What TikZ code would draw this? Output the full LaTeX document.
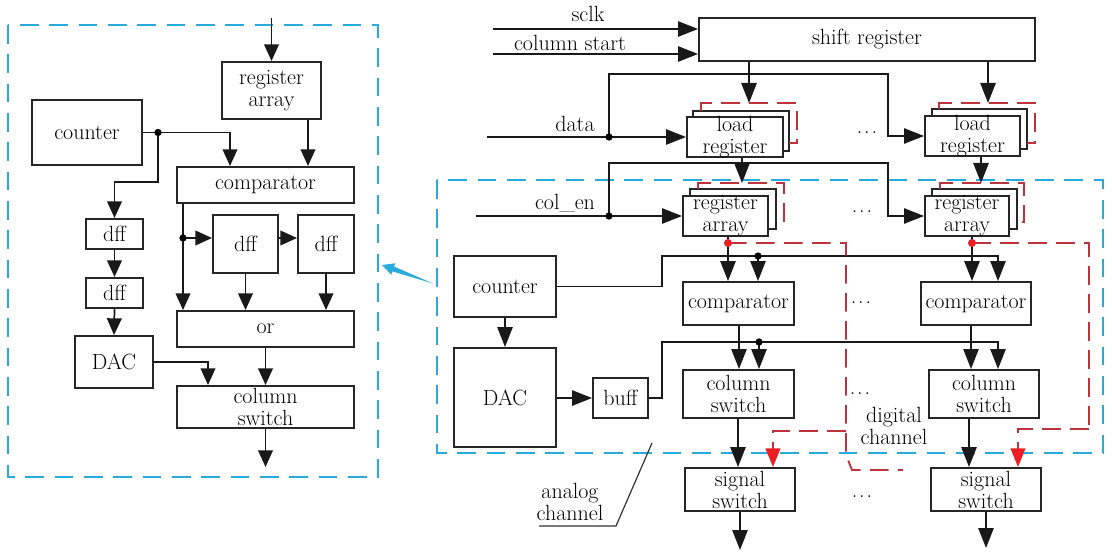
\documentclass[tikz,border=0pt]{standalone}
\usepackage{fontspec}
\usetikzlibrary{arrows.meta,fit}
\definecolor{cblue}{RGB}{40,170,220}
\definecolor{cred}{RGB}{190,50,60}
\definecolor{bred}{RGB}{235,30,35}
\tikzset{
 lbl/.style={font=\fontsize{16.5}{16.5}\selectfont\addfontfeature{FakeBold=0.7}, align=center, inner sep=0pt},
 dots/.style={lbl, font=\fontsize{16.5}{16.5}\selectfont\addfontfeature{FakeBold=1.5}},
 bx/.style={draw=black!85, line width=1.5pt, fill=white, inner sep=0pt},
 ln/.style={line width=1.3pt, black!90},
 al/.style={ln, -{Triangle[length=12.5pt,width=11pt]}},
 arw/.style={ln, -{Triangle[length=15pt,width=11.5pt]}},
 bdash/.style={cblue, line width=1.8pt, dash pattern=on 14pt off 8pt},
 rdash/.style={cred, line width=1.4pt, dash pattern=on 14pt off 7pt},
 rarw/.style={rdash, -{Triangle[length=14pt,width=11pt,color=bred]}},
 jd/.style={circle, fill=black, inner sep=0pt, minimum size=5.5pt},
 rd/.style={circle, fill=bred, inner sep=0pt, minimum size=6pt},
}
\newcommand{\mydots}{.\kern1.5pt.\kern1.5pt.}
\begin{document}
\begin{tikzpicture}[x=0.75pt,y=-0.75pt]
\useasboundingbox (0,0) rectangle (1112,552);
% ---------- blue dashed frames ----------
\draw[bdash] (8,25) rectangle (378,477);
\draw[bdash] (437,180) rectangle (1103,453);
\fill[cblue] (382,265) -- (395.3,263.3) -- (394.1,266.6) -- (433,283.5) -- (392.5,271.4) -- (391.3,274.7) -- cycle;

% ---------- left panel ----------
\coordinate (ltop) at (271.5,18);
\coordinate (X308) at (308,0);
\coordinate (X230) at (230,0);
\coordinate (X183) at (183,0);
\coordinate (X208) at (208,0);
\coordinate (lj) at (158,132.5);
\coordinate (lj2) at (183,238);
\coordinate (lout) at (265.5,467);
\node[bx, fit={(222,62) (321,119)}, label={[lbl]center:{register\\array}}] (lra) {};
\node[bx, fit={(32,100) (142,165)}, label={[lbl]center:counter}] (lcnt) {};
\node[bx, fit={(177,167) (354,203)}, label={[lbl]center:comparator}] (lcmp) {};
\node[bx, fit={(86,219) (143,249)}, label={[lbl]center:dff}] (ld1) {};
\node[bx, fit={(86,278) (143,308)}, label={[lbl]center:dff}] (ld2) {};
\node[bx, fit={(75,336) (153,388)}, label={[lbl]center:DAC}] (ldac) {};
\node[bx, fit={(213,215) (278,273)}, label={[lbl]center:dff}] (ld3) {};
\node[bx, fit={(298,215) (354,273)}, label={[lbl]center:dff}] (ld4) {};
\node[bx, fit={(177,311) (354,347)}, label={[lbl]center:or}] (lor) {};
\node[bx, fit={(177,386) (354,428)}, label={[lbl]center:{column\\switch}}] (lcs) {};

\draw[al] (ltop) -- (lra.north);
\draw[al] (lra.south -| X308) -- (lcmp.north -| X308);
\draw[al] (lcnt.east) -| (lcmp.north -| X230);
\draw[al] (lj) -- (158,182) -| (ld1.north);
\draw[al] (ld1.south) -- (ld2.north);
\draw[al] (ld2.south) -- (ldac.north);
\draw[al] (ldac.east) -| (lcs.north -| X208);
\draw[al] (lcmp.south -| X183) -- (lor.north -| X183);
\draw[al] (lj2) -- (ld3.west |- lj2);
\draw[al] (ld3.east |- lj2) -- (ld4.west |- lj2);
\draw[al] (ld3.south) -- (ld3.south |- lor.north);
\draw[al] (ld4.south) -- (ld4.south |- lor.north);
\draw[al] (lor.south) -- (lcs.north);
\draw[al] (lcs.south) -- (lout);
\node[jd] at (lj) {};
\node[jd] at (lj2) {};

% ---------- right panel ----------
\node[bx, fit={(699,18) (1035,61)}, label={[lbl]center:shift register}] (sr) {};
\coordinate (sclkin) at (493,29);
\coordinate (csin) at (493,54);
\draw[arw] (sclkin) -- (sclkin -| sr.west);
\draw[arw] (csin) -- (csin -| sr.west);
\node[lbl] at (588,14) {sclk};
\node[lbl] at (570,43) {column start};

% load registers
\node[bx, fit={(693,111) (789,151)}] (lr1b) {};
\node[bx, fit={(687,117) (783,157)}, label={[lbl]center:{load\\register}}] (lr1) {};
\draw[rdash] (701,111) -- (701,103) -- (797,103) -- (797,143) -- (789,143);
\node[bx, fit={(932,109) (1027,149)}] (lr2b) {};
\node[bx, fit={(925,116) (1020,156)}, label={[lbl]center:{load\\register}}] (lr2) {};
\draw[rdash] (939,109) -- (939,103) -- (1035,103) -- (1035,143) -- (1027,143);
\coordinate (lr1t) at (749,103);
\coordinate (lr2t) at (988,103);
\draw[arw] (sr.south -| lr1t) -- (lr1t);
\draw[arw] (sr.south -| lr2t) -- (lr2t);

\coordinate (datain) at (487,137);
\coordinate (dj) at (609,137);
\draw[arw] (datain) -- (datain -| lr1.west);
\draw[arw] (dj) |- (888,74) |- (lr2.west);
\node[jd] at (dj) {};
\node[lbl] at (575,124) {data};

% register arrays
\node[bx, fit={(690,189) (776,229)}] (ra1b) {};
\node[bx, fit={(683,196) (768,236)}, label={[lbl]center:{register\\array}}] (ra1) {};
\draw[rdash] (698,189) -- (698,183) -- (784,183) -- (784,222) -- (776,222);
\node[bx, fit={(932,189) (1017,229)}] (ra2b) {};
\node[bx, fit={(925,196) (1009,236)}, label={[lbl]center:{register\\array}}] (ra2) {};
\draw[rdash] (940,189) -- (940,183) -- (1024,183) -- (1024,222) -- (1017,222);
\coordinate (ra1t) at (742,183);
\coordinate (ra2t) at (981,183);
\draw[arw] (lr1.south -| ra1t) -- (ra1t);
\draw[arw] (lr2.south -| ra2t) -- (ra2t);

\coordinate (colin) at (476,216);
\coordinate (cj) at (609,216);
\draw[arw] (colin) -- (colin -| ra1.west);
\draw[arw] (cj) |- (888,163) |- (ra2.west);
\node[jd] at (cj) {};
\node[lbl] at (565,203) {col\_en};

% analog blocks
\node[bx, fit={(454,256) (556,317)}, label={[lbl]center:counter}] (cnt) {};
\node[bx, fit={(454,348) (556,447)}, label={[lbl]center:DAC}] (dac) {};
\node[bx, fit={(593,378) (648,418)}, label={[lbl]center:buff}] (buff) {};

% channel blocks
\node[bx, fit={(683,282) (794,325)}, label={[lbl]center:comparator}] (cmp1) {};
\node[bx, fit={(921,282) (1031,325)}, label={[lbl]center:comparator}] (cmp2) {};
\node[bx, fit={(683,370) (794,418)}, label={[lbl]center:{column\\switch}}] (cs1) {};
\node[bx, fit={(929,370) (1039,418)}, label={[lbl]center:{column\\switch}}] (cs2) {};
\node[bx, fit={(685,468) (795,511)}, label={[lbl]center:{signal\\switch}}] (ss1) {};
\node[bx, fit={(931,468) (1041,511)}, label={[lbl]center:{signal\\switch}}] (ss2) {};

\coordinate (rd1) at (728,243);
\coordinate (rd2) at (972,243);
\coordinate (X998) at (998,0);
\coordinate (X739) at (739,0);
\coordinate (X971) at (971,0);
\coordinate (X738) at (738,0);
\coordinate (X969) at (969,0);
\coordinate (X773) at (773,0);
\coordinate (X1018) at (1018,0);
\coordinate (j758) at (758,256);
\coordinate (j759) at (759,342);
\coordinate (out1) at (740,550);
\coordinate (out2) at (986,548);

\draw[arw] (ra1.south -| rd1) -- (cmp1.north -| rd1);
\draw[arw] (ra2.south -| rd2) -- (cmp2.north -| rd2);
\draw[arw] (cnt.east) -| (662,256) -| (cmp2.north -| X998);
\draw[arw] (j758) -- (cmp1.north -| j758);
\node[jd] at (j758) {};
\draw[arw] (cnt.south) -- (dac.north);
\draw[arw] (dac.east |- buff.west) -- (buff.west);
\draw[arw] (buff.east) -| (662,342) -| (cs2.north -| X998);
\draw[arw] (j759) -- (cs1.north -| j759);
\node[jd] at (j759) {};
\draw[arw] (cmp1.south -| X739) -- (cs1.north -| X739);
\draw[arw] (cmp2.south -| X971) -- (cs2.north -| X971);
\draw[arw] (cs1.south -| X738) -- (ss1.north -| X738);
\draw[arw] (cs2.south -| X969) -- (ss2.north -| X969);
\draw[arw] (ss1.south) -- (out1);
\draw[arw] (ss2.south) -- (out2);

% red digital-channel paths
\draw[rdash] (rd1) -- (846,243) -- (846,455) -- (852,470) -- (903,470);
\draw[rarw] (846,431) -- (773,431) -- (ss1.north -| X773);
\draw[rdash] (rd2) -- (1089,243) -- (1089,429);
\draw[rarw] (1089,429) -- (1018,429) -- (ss2.north -| X1018);
\node[rd] at (rd1) {};
\node[rd] at (rd2) {};

% labels
\node[lbl] at (570,502) {analog\\channel};
\draw[line width=0.9pt, black!80] (539,526) -- (616,526) -- (652,443);
\node[lbl] at (894,426) {digital\\channel};
\node[dots] at (867,133) {\mydots};
\node[dots] at (862,212) {\mydots};
\node[dots] at (861,303) {\mydots};
\node[dots] at (860,394) {\mydots};
\node[dots] at (862,497) {\mydots};
\end{tikzpicture}
\end{document}
